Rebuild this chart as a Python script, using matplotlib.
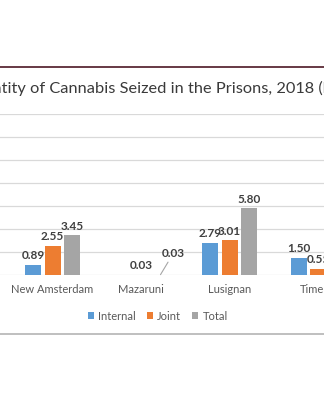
import numpy as np
import matplotlib
matplotlib.use("Agg")
import matplotlib.pyplot as plt
from matplotlib.patches import Patch
from matplotlib.lines import Line2D

plt.rcParams['font.family'] = ['Lato', 'DejaVu Sans']

categories = ["New Amsterdam", "Mazaruni", "Lusignan", "Timehri"]
internal = [0.89, np.nan, 2.79, 1.50]
joint = [2.55, 0.03, 3.01, 0.55]
total = [3.45, 0.03, 5.80, 2.05]
series_names = ["Internal", "Joint", "Total"]
colors = ["#5B9BD5", "#ED7D31", "#A5A5A5"]
title = "Quantity of Cannabis Seized in the Prisons, 2018 (kg)"
visible_title = "tity of Cannabis Seized in the Prisons, 2018 ("

W, H = 324, 400
fig = plt.figure(figsize=(W / 100, H / 100), dpi=100)
fig.patch.set_facecolor("white")

# frame lines
fig.add_artist(Line2D([0, 1], [1 - 67 / H, 1 - 67 / H], color="#5a2a36", lw=1.3))
fig.add_artist(Line2D([0, 1], [1 - 334 / H, 1 - 334 / H], color="#b4b4b4", lw=1.2))

ax = fig.add_axes([0, 1 - 275 / H, 1, 161 / H])
ax.set_facecolor("none")
step = 88.5
x0 = 52.5
ax.set_xlim(-x0 / step, (W - x0) / step)
ax.set_ylim(0, 14)
ax.set_yticks(np.arange(0, 15, 2))
ax.set_yticklabels([])
ax.tick_params(axis="y", length=0)
ax.grid(axis="y", color="#d9d9d9", lw=0.9)
ax.set_axisbelow(True)
for s in ax.spines.values():
    s.set_visible(False)

idx = np.arange(len(categories))
off = 19.5 / step
bw = 16 / step
label_kw = dict(ha="center", va="bottom", fontsize=8.5, fontweight="bold", color="#404040")
for k, (vals, col) in enumerate(zip([internal, joint, total], colors)):
    xs = idx + (k - 1) * off
    v = np.array(vals, dtype=float)
    ax.bar(xs, np.nan_to_num(v), width=bw, color=col, zorder=2)
    for i, (x, y) in enumerate(zip(xs, v)):
        if np.isnan(y):
            continue
        if categories[i] == "Mazaruni" and k == 2:
            ax.annotate(f"{y:.2f}", xy=(x, y), xytext=(9, 11), textcoords="offset points",
                        arrowprops=dict(arrowstyle="-", color="#a6a6a6", lw=0.8,
                                        shrinkA=0, shrinkB=0), **label_kw)
        else:
            ax.annotate(f"{y:.2f}", xy=(x, y), xytext=(0, 2.5), textcoords="offset points",
                        **label_kw)

ax.set_xticks(idx)
ax.set_xticklabels(categories, fontsize=8, color="#595959")
ax.tick_params(axis="x", length=0, pad=6.5)

# legend
handles = [Patch(facecolor=c, edgecolor="none") for c in colors]
fig.legend(handles, series_names, loc="center", bbox_to_anchor=(158 / W, 1 - 316 / H),
           ncol=3, frameon=False, fontsize=8, labelcolor="#595959",
           handlelength=0.55, handleheight=0.55, handletextpad=0.35, columnspacing=1.0)

# title (cropped at both sides like the reference)
renderer = fig.canvas.get_renderer()
t = fig.text(0, 0, visible_title, fontsize=10)
w10 = t.get_window_extent(renderer).width
t.remove()
fs = 10 * 321 / w10
p = fig.text(0, 0, title[: title.index(visible_title)], fontsize=fs)
wp = p.get_window_extent(renderer).width
p.remove()
fig.text((1.5 - wp) / W, 1 - 88 / H, title, fontsize=fs, color="#3a3a3a",
         ha="left", va="center")

fig.savefig("out.png", dpi=100)
